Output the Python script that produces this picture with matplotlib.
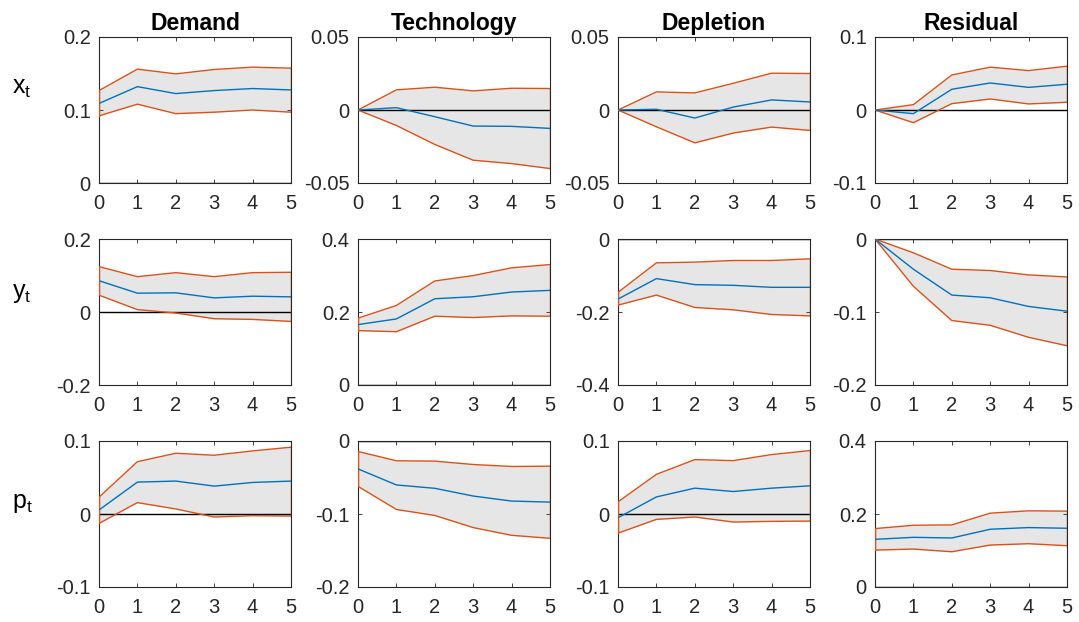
import numpy as np
import matplotlib
matplotlib.use("Agg")
import matplotlib.pyplot as plt

plt.rcParams["font.family"] = ["Liberation Sans", "DejaVu Sans"]

horizon = [0, 1, 2, 3, 4, 5]
shocks = ["Demand", "Technology", "Depletion", "Residual"]
variables = ["x", "y", "p"]

# impulse responses: (lower, median, upper) per variable, per shock
x_lo = [[0.092, 0.108, 0.095, 0.097, 0.100, 0.097],
        [0.0, -0.0106, -0.0236, -0.0344, -0.0367, -0.0401],
        [0.0, -0.0115, -0.0225, -0.0158, -0.0117, -0.014],
        [0.0, -0.0174, 0.0087, 0.0151, 0.0083, 0.0106]]
x_md = [[0.109, 0.132, 0.1225, 0.1266, 0.1294, 0.1275],
        [0.0, 0.0016, -0.0046, -0.011, -0.0112, -0.0126],
        [0.0, 0.0005, -0.0055, 0.002, 0.0069, 0.0055],
        [0.0, -0.005, 0.0284, 0.037, 0.031, 0.0353]]
x_hi = [[0.1266, 0.156, 0.1495, 0.1555, 0.1587, 0.1573],
        [0.0, 0.0138, 0.0156, 0.0131, 0.0149, 0.0147],
        [0.0, 0.0124, 0.0117, 0.0183, 0.0252, 0.025],
        [0.0, 0.0073, 0.048, 0.0587, 0.054, 0.06]]

y_lo = [[0.0461, 0.0065, -0.0028, -0.0184, -0.0203, -0.0258],
        [0.149, 0.146, 0.1885, 0.1848, 0.1894, 0.1885],
        [-0.1811, -0.1536, -0.1876, -0.194, -0.2069, -0.2106],
        [0.0, -0.0648, -0.1117, -0.1182, -0.1347, -0.1462]]
y_md = [[0.0857, 0.0516, 0.0525, 0.0387, 0.0433, 0.0415],
        [0.1655, 0.181, 0.2363, 0.2418, 0.2547, 0.2593],
        [-0.1646, -0.1085, -0.125, -0.1269, -0.1324, -0.1324],
        [0.0, -0.0414, -0.0768, -0.0805, -0.0924, -0.0989]]
y_hi = [[0.1244, 0.0968, 0.1078, 0.0968, 0.1078, 0.1088],
        [0.183, 0.218, 0.285, 0.2998, 0.321, 0.330],
        [-0.1462, -0.0653, -0.0634, -0.0589, -0.0589, -0.0543],
        [0.0, -0.0189, -0.0414, -0.0432, -0.0492, -0.052]]

p_lo = [[-0.0129, 0.0156, 0.0069, -0.0041, -0.0023, -0.0028],
        [-0.0621, -0.0938, -0.102, -0.1186, -0.1292, -0.1333],
        [-0.0262, -0.0074, -0.0041, -0.011, -0.0101, -0.0097],
        [0.1011, 0.1039, 0.0966, 0.1149, 0.1186, 0.1131]]
p_md = [[0.0055, 0.0437, 0.0451, 0.0382, 0.0432, 0.0451],
        [-0.0382, -0.0602, -0.0648, -0.0754, -0.0823, -0.0837],
        [-0.0051, 0.0234, 0.0354, 0.0308, 0.0354, 0.0386],
        [0.1306, 0.1361, 0.1343, 0.1582, 0.1628, 0.1609]]
p_hi = [[0.023, 0.0717, 0.0832, 0.0805, 0.0864, 0.0915],
        [-0.0143, -0.0271, -0.0276, -0.0322, -0.0349, -0.0345],
        [0.0166, 0.0543, 0.0745, 0.0731, 0.0814, 0.0869],
        [0.16, 0.1692, 0.1701, 0.2023, 0.2087, 0.2078]]

# y-axis limits and ticks per panel
ylims = [[(0, 0.2), (-0.05, 0.05), (-0.05, 0.05), (-0.1, 0.1)],
         [(-0.2, 0.2), (0, 0.4), (-0.4, 0), (-0.2, 0)],
         [(-0.1, 0.1), (-0.2, 0), (-0.1, 0.1), (0, 0.4)]]
ytick_labels = [[["0", "0.1", "0.2"], ["-0.05", "0", "0.05"], ["-0.05", "0", "0.05"], ["-0.1", "0", "0.1"]],
                [["-0.2", "0", "0.2"], ["0", "0.2", "0.4"], ["-0.4", "-0.2", "0"], ["-0.2", "-0.1", "0"]],
                [["-0.1", "0", "0.1"], ["-0.2", "-0.1", "0"], ["-0.1", "0", "0.1"], ["0", "0.2", "0.4"]]]

bands = [(x_lo, x_md, x_hi), (y_lo, y_md, y_hi), (p_lo, p_md, p_hi)]

blue = "#0072BD"
orange = "#D95319"

W, H = 1079, 622
fig = plt.figure(figsize=(W / 100, H / 100), dpi=100)

col_left = [99, 358, 618, 875]
ax_w = 192
row_top = [37, 239, 441]
ax_h = 146

for i in range(3):
    lo_all, md_all, hi_all = bands[i]
    for j in range(4):
        ax = fig.add_axes([col_left[j] / W, 1 - (row_top[i] + ax_h) / H, ax_w / W, ax_h / H])
        lo = np.array(lo_all[j])
        md = np.array(md_all[j])
        hi = np.array(hi_all[j])
        ax.fill_between(horizon, lo, hi, color="#E6E6E6", lw=0, zorder=1)
        ax.axhline(0, color="black", lw=1.0, zorder=2)
        ax.plot(horizon, lo, color=orange, lw=1.0, zorder=3)
        ax.plot(horizon, hi, color=orange, lw=1.0, zorder=3)
        ax.plot([horizon[0], horizon[0]], [lo[0], hi[0]], color=orange, lw=1.0, zorder=3)
        ax.plot([horizon[-1], horizon[-1]], [lo[-1], hi[-1]], color=orange, lw=1.0, zorder=3)
        ax.plot(horizon, md, color=blue, lw=1.0, zorder=4)
        y0, y1 = ylims[i][j]
        ax.set_xlim(0, 5)
        ax.set_ylim(y0, y1)
        ax.set_xticks(horizon)
        ax.set_yticks([y0, (y0 + y1) / 2, y1])
        ax.set_yticklabels(ytick_labels[i][j])
        ax.tick_params(direction="in", top=True, right=True, length=3, width=0.6,
                       labelsize=14.5, colors="#262626", pad=6)
        ax.tick_params(axis="x", pad=8)
        for s in ax.spines.values():
            s.set_linewidth(0.8)
            s.set_color("#262626")
        if i == 0:
            ax.set_title(shocks[j], fontsize=16.5, fontweight="bold", pad=5)

label_y = [88, 293, 503]
for i, v in enumerate(variables):
    fig.text(22 / W, 1 - label_y[i] / H, r"$\mathregular{%s_t}$" % v,
             fontsize=18, ha="center", va="center")

fig.savefig("out.png", dpi=100)
